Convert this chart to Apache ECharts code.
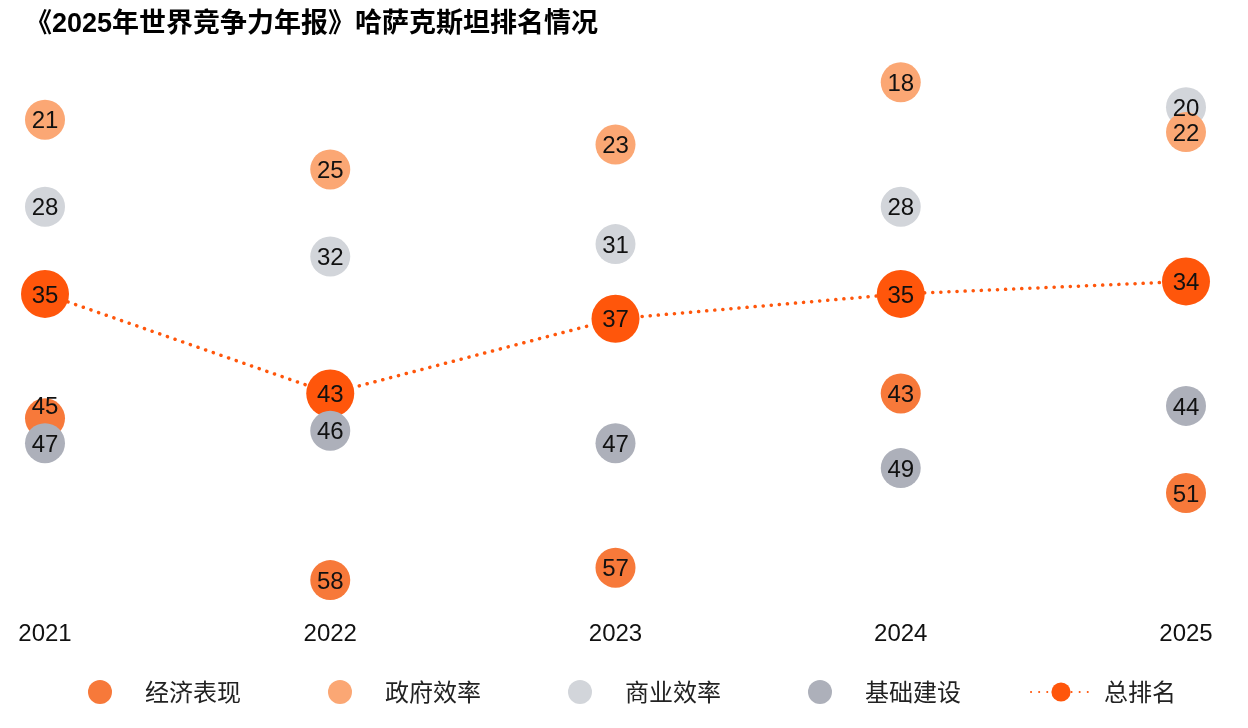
<!DOCTYPE html>
<html>
<head>
<meta charset="utf-8">
<script src="https://cdn.jsdelivr.net/npm/echarts@6/dist/echarts.min.js"></script>
<style>
  html, body { margin: 0; padding: 0; background: #fff; }
  #main { width: 1248px; height: 728px; }
</style>
</head>
<body>
<div id="main"></div>
<script>
// 年份
var years = ['2021', '2022', '2023', '2024', '2025'];
// 各项排名
var economy = [45, 58, 57, 43, 51];     // 经济表现
var government = [21, 25, 23, 18, 22];  // 政府效率
var business = [28, 32, 31, 28, 20];    // 商业效率
var infra = [47, 46, 47, 49, 44];       // 基础建设
var overall = [35, 43, 37, 35, 34];     // 总排名

var chart = echarts.init(document.getElementById('main'));

var labelStyle = {
  show: true,
  position: 'inside',
  offset: [0, 2],
  color: '#111',
  fontSize: 24,
  fontFamily: 'Liberation Sans, Arial, sans-serif'
};

// 所有系列用同一个z，这样标签都会画在圆点上面
function scatter(name, data, color) {
  return {
    name: name,
    type: 'scatter',
    symbol: 'circle',
    symbolSize: 40,
    z: 3,
    itemStyle: { color: color, opacity: 1 },
    label: labelStyle,
    emphasis: { disabled: true },
    data: data
  };
}

// 2021年经济表现的标签稍微上移，避免被基础建设遮住
var economyData = economy.map(function (v, i) {
  if (i === 0) return { value: v, label: { offset: [0, -11] } };
  return v;
});

var legendText = {
  fontSize: 24,
  color: '#222',
  padding: [0, 0, 0, 8],
  fontFamily: '"Noto Sans CJK SC", sans-serif'
};

var option = {
  animation: false,
  title: {
    text: '《2025年世界竞争力年报》哈萨克斯坦排名情况',
    left: 20,
    top: 6,
    textStyle: {
      fontSize: 27,
      fontWeight: 'bold',
      color: '#000',
      fontFamily: 'Liberation Sans, "Noto Sans CJK SC", sans-serif'
    }
  },
  legend: [{
    left: 83,
    top: 675,
    itemWidth: 64,
    itemHeight: 24,
    itemGap: 87,
    textStyle: legendText,
    data: ['经济表现', '政府效率', '商业效率', '基础建设']
  }, {
    left: 1025,
    top: 675,
    itemWidth: 60,
    itemHeight: 24,
    textStyle: legendText,
    data: ['总排名']
  }],
  grid: {
    left: 45,
    right: 62,
    top: 45,
    bottom: 123
  },
  xAxis: {
    type: 'category',
    boundaryGap: false,
    data: years,
    axisLine: { show: false },
    axisTick: { show: false },
    splitLine: { show: false },
    axisLabel: {
      margin: 17,
      fontSize: 24,
      color: '#111',
      fontFamily: 'Liberation Sans, Arial, sans-serif'
    }
  },
  yAxis: {
    type: 'value',
    inverse: true,
    min: 15,
    max: 60,
    show: false,
    splitLine: { show: false }
  },
  series: [
    {
      name: '总排名',
      type: 'line',
      symbol: 'circle',
      symbolSize: 48,
      showAllSymbol: true,
      z: 3,
      itemStyle: { color: '#FF560B' },
      lineStyle: { color: '#FF560B', width: 3.5, type: [0.1, 8], cap: 'round' },
      label: labelStyle,
      emphasis: { disabled: true },
      data: overall
    },
    scatter('经济表现', economyData, '#F7793A'),
    scatter('商业效率', business, '#D2D5DA'),
    scatter('政府效率', government, '#FBA774'),
    scatter('基础建设', infra, '#ADB0BA')
  ]
};

chart.setOption(option);
</script>
</body>
</html>
